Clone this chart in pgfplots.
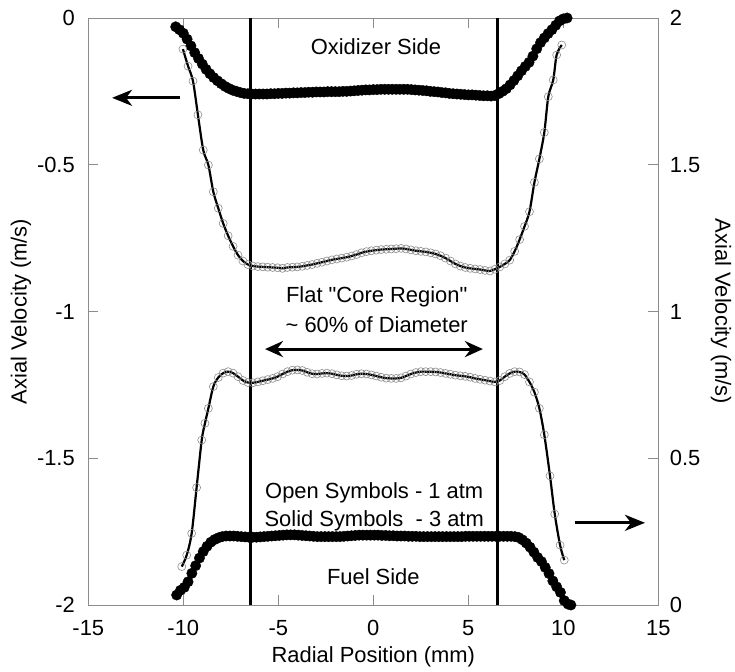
\documentclass[border=0pt]{standalone}
\usepackage{fontspec}
\setmainfont{Liberation Sans}[Ligatures=TeXOff]
\usepackage{pgfplots}
\usepackage{pgfplotstable}
\pgfplotsset{compat=1.18}
\usetikzlibrary{arrows.meta}

\definecolor{frame}{gray}{0.55}
\definecolor{ring}{gray}{0.55}

% Oxidizer side, 3 atm (left axis, m/s)
\pgfplotstableread{
x y
-10.40 -0.030
-10.20 -0.040
-10.00 -0.052
-9.80 -0.072
-9.60 -0.095
-9.40 -0.118
-9.20 -0.138
-9.00 -0.157
-8.80 -0.175
-8.60 -0.190
-8.40 -0.203
-8.20 -0.214
-8.00 -0.224
-7.80 -0.233
-7.60 -0.240
-7.40 -0.246
-7.20 -0.250
-7.00 -0.254
-6.80 -0.257
-6.60 -0.258
-6.40 -0.259
-6.20 -0.259
-6.00 -0.259
-5.80 -0.259
-5.60 -0.259
-5.40 -0.258
-5.20 -0.258
-5.00 -0.257
-4.80 -0.257
-4.60 -0.256
-4.40 -0.256
-4.20 -0.255
-4.00 -0.255
-3.80 -0.254
-3.60 -0.254
-3.40 -0.253
-3.20 -0.253
-3.00 -0.252
-2.80 -0.252
-2.60 -0.252
-2.40 -0.251
-2.20 -0.251
-2.00 -0.251
-1.80 -0.251
-1.60 -0.250
-1.40 -0.250
-1.20 -0.249
-1.00 -0.248
-0.80 -0.247
-0.60 -0.246
-0.40 -0.245
-0.20 -0.245
0.00 -0.244
0.20 -0.244
0.40 -0.243
0.60 -0.243
0.80 -0.243
1.00 -0.243
1.20 -0.243
1.40 -0.243
1.60 -0.243
1.80 -0.243
2.00 -0.244
2.20 -0.245
2.40 -0.246
2.60 -0.247
2.80 -0.248
3.00 -0.250
3.20 -0.251
3.40 -0.252
3.60 -0.254
3.80 -0.255
4.00 -0.257
4.20 -0.258
4.40 -0.259
4.60 -0.260
4.80 -0.261
5.00 -0.262
5.20 -0.262
5.40 -0.263
5.60 -0.264
5.80 -0.265
6.00 -0.265
6.20 -0.266
6.40 -0.264
6.60 -0.258
6.80 -0.250
7.00 -0.241
7.20 -0.228
7.40 -0.213
7.60 -0.197
7.80 -0.180
8.00 -0.165
8.20 -0.151
8.40 -0.130
8.60 -0.105
8.80 -0.084
9.00 -0.068
9.20 -0.053
9.40 -0.040
9.60 -0.025
9.80 -0.010
10.00 -0.003
10.20 0.000
}\oxhigh

% Oxidizer side, 1 atm (left axis, m/s)
\pgfplotstableread{
x y
-10.02 -0.106
-9.75 -0.164
-9.49 -0.215
-9.23 -0.330
-8.95 -0.450
-8.68 -0.501
-8.42 -0.592
-8.16 -0.648
-7.90 -0.700
-7.64 -0.742
-7.38 -0.778
-7.12 -0.808
-6.86 -0.828
-6.60 -0.840
-6.34 -0.845
-6.08 -0.847
-5.82 -0.848
-5.56 -0.849
-5.30 -0.850
-5.04 -0.851
-4.78 -0.853
-4.52 -0.850
-4.26 -0.849
-4.00 -0.848
-3.74 -0.846
-3.48 -0.843
-3.22 -0.840
-2.96 -0.836
-2.70 -0.832
-2.44 -0.828
-2.18 -0.824
-1.92 -0.821
-1.66 -0.818
-1.40 -0.815
-1.14 -0.811
-0.88 -0.806
-0.62 -0.800
-0.36 -0.796
-0.10 -0.793
0.16 -0.791
0.42 -0.789
0.68 -0.788
0.94 -0.787
1.20 -0.786
1.46 -0.785
1.72 -0.787
1.98 -0.790
2.24 -0.793
2.50 -0.795
2.76 -0.797
3.02 -0.800
3.28 -0.804
3.54 -0.810
3.80 -0.818
4.06 -0.828
4.32 -0.838
4.58 -0.845
4.84 -0.850
5.10 -0.853
5.36 -0.855
5.62 -0.857
5.88 -0.860
6.14 -0.862
6.40 -0.856
6.66 -0.848
6.92 -0.838
7.18 -0.825
7.44 -0.795
7.70 -0.755
7.96 -0.710
8.22 -0.660
8.48 -0.560
8.74 -0.480
9.00 -0.390
9.21 -0.268
9.47 -0.211
9.65 -0.126
9.92 -0.092
}\oxlow

% Fuel side, 1 atm (right axis, m/s)
\pgfplotstableread{
x y
-10.08 0.131
-9.82 0.170
-9.56 0.244
-9.30 0.400
-9.03 0.562
-8.86 0.619
-8.68 0.670
-8.42 0.744
-8.16 0.775
-7.90 0.790
-7.64 0.795
-7.38 0.790
-7.12 0.778
-6.86 0.765
-6.60 0.758
-6.34 0.757
-6.08 0.760
-5.82 0.764
-5.56 0.768
-5.30 0.772
-5.04 0.778
-4.78 0.787
-4.52 0.795
-4.26 0.800
-4.00 0.801
-3.74 0.799
-3.48 0.793
-3.22 0.788
-2.96 0.787
-2.70 0.789
-2.44 0.790
-2.18 0.788
-1.92 0.784
-1.66 0.781
-1.40 0.780
-1.14 0.782
-0.88 0.786
-0.62 0.788
-0.36 0.787
-0.10 0.784
0.16 0.780
0.42 0.776
0.68 0.773
0.94 0.772
1.20 0.772
1.46 0.774
1.72 0.780
1.98 0.787
2.24 0.792
2.50 0.795
2.76 0.795
3.02 0.795
3.28 0.794
3.54 0.792
3.80 0.789
4.06 0.786
4.32 0.783
4.58 0.781
4.84 0.779
5.10 0.776
5.36 0.772
5.62 0.769
5.88 0.766
6.14 0.763
6.40 0.760
6.66 0.765
6.92 0.778
7.18 0.789
7.44 0.795
7.70 0.794
7.96 0.785
8.22 0.760
8.48 0.725
8.74 0.670
9.00 0.580
9.30 0.440
9.55 0.310
9.83 0.204
10.05 0.153
}\fuellow

% Fuel side, 3 atm (right axis, m/s)
\pgfplotstableread{
x y
-10.35 0.034
-10.15 0.050
-9.95 0.060
-9.75 0.079
-9.55 0.108
-9.35 0.134
-9.15 0.160
-8.95 0.182
-8.75 0.200
-8.55 0.214
-8.35 0.223
-8.15 0.229
-7.95 0.233
-7.75 0.235
-7.55 0.235
-7.35 0.235
-7.15 0.234
-6.95 0.233
-6.75 0.232
-6.55 0.231
-6.35 0.231
-6.15 0.231
-5.95 0.232
-5.75 0.233
-5.55 0.234
-5.35 0.235
-5.15 0.236
-4.95 0.237
-4.75 0.238
-4.55 0.239
-4.35 0.239
-4.15 0.239
-3.95 0.238
-3.75 0.237
-3.55 0.236
-3.35 0.235
-3.15 0.234
-2.95 0.233
-2.75 0.233
-2.55 0.233
-2.35 0.233
-2.15 0.233
-1.95 0.233
-1.75 0.233
-1.55 0.234
-1.35 0.235
-1.15 0.236
-0.95 0.237
-0.75 0.238
-0.55 0.238
-0.35 0.238
-0.15 0.238
0.05 0.238
0.25 0.238
0.45 0.237
0.65 0.237
0.85 0.236
1.05 0.236
1.25 0.235
1.45 0.235
1.65 0.235
1.85 0.234
2.05 0.234
2.25 0.234
2.45 0.233
2.65 0.233
2.85 0.233
3.05 0.233
3.25 0.233
3.45 0.233
3.65 0.233
3.85 0.233
4.05 0.233
4.25 0.233
4.45 0.233
4.65 0.233
4.85 0.234
5.05 0.234
5.25 0.234
5.45 0.234
5.65 0.234
5.85 0.234
6.05 0.234
6.25 0.234
6.45 0.234
6.65 0.234
6.85 0.234
7.05 0.234
7.25 0.234
7.45 0.233
7.65 0.230
7.85 0.222
8.05 0.211
8.25 0.197
8.45 0.180
8.65 0.162
8.85 0.148
9.05 0.128
9.25 0.107
9.45 0.082
9.65 0.062
9.85 0.043
10.05 0.015
10.25 0.003
10.40 0.000
}\fuelhigh

\newcommand\chartfont{\fontsize{22}{26}\selectfont}

\pgfplotsset{
  velframe/.style={
    at={(0,0)}, anchor=south west,
    scale only axis, width=570bp, height=587bp,
    xmin=-15, xmax=15,
    clip=false,
    axis line style={frame, line width=0.8bp},
    major tick style={frame, line width=0.8bp},
    major tick length=10bp,
    tick align=inside,
    tick label style={font=\chartfont},
    label style={font=\chartfont},
  },
  solidpts/.style={only marks, mark=*, mark size=5.2bp, black,
    mark options={fill=black, draw=black}},
  openpts/.style={only marks, mark=o, mark size=4bp,
    mark options={draw=ring, line width=0.6bp}},
  openline/.style={no marks, black, line width=2.2bp, smooth},
}

\begin{document}
\begin{tikzpicture}
\useasboundingbox (-88.3bp,-67bp) rectangle (646.7bp,605bp);

% left axis: oxidizer side
\begin{axis}[velframe,
  ymin=-2, ymax=0,
  xtick={-15,-10,-5,0,5,10,15},
  xticklabels={-15,-10,-5,0,5,10,15},
  xtick pos=both, xticklabel pos=lower,
  xticklabel style={anchor=center, yshift=-23bp},
  ytick={-2,-1.5,-1,-0.5,0},
  yticklabels={-2,-1.5,-1,-0.5,0},
  ytick pos=left,
  yticklabel style={anchor=east, xshift=-10bp},
  xlabel={Radial Position (mm)},
  xlabel style={at={(axis description cs:0.5,-0.089)}, anchor=center},
  ylabel={Axial Velocity (m/s)},
  ylabel style={at={(axis description cs:-0.118,0.5)}, anchor=center, rotate=0},
]
\addplot[solidpts] table {\oxhigh};
\addplot[openpts] table {\oxlow};
\addplot[openline] table {\oxlow};

% core region boundaries
\draw[black, line width=2.6bp] (axis cs:-6.45,-2) -- (axis cs:-6.45,0);
\draw[black, line width=2.6bp] (axis cs:6.55,-2) -- (axis cs:6.55,0);

\draw[line width=3bp, -{Stealth[length=20bp, width=16bp, inset=6bp]}]
  (axis cs:-10.17,-0.272) -- (axis cs:-13.75,-0.272);
\draw[line width=3bp, -{Stealth[length=20bp, width=16bp, inset=6bp]}]
  (axis cs:10.6,-1.72) -- (axis cs:14.3,-1.72);
\draw[line width=3bp, {Stealth[length=18bp, width=16bp, inset=6bp]}-{Stealth[length=18bp, width=16bp, inset=6bp]}]
  (axis cs:-5.7,-1.128) -- (axis cs:5.77,-1.128);

\begin{scope}[every node/.style={font=\chartfont, anchor=center, inner sep=0pt}]
\node at (axis cs:0.14,-0.099) {Oxidizer Side};
\node at (axis cs:0.18,-0.950) {Flat "Core Region"};
\node at (axis cs:0.18,-1.046) {\textasciitilde{} 60\% of Diameter};
\node at (axis cs:0.05,-1.618) {Open Symbols - 1 atm};
\node at (axis cs:0.05,-1.714) {Solid Symbols \ - 3 atm};
\node at (axis cs:0,-1.905) {Fuel Side};
\end{scope}
\end{axis}

% right axis: fuel side
\begin{axis}[velframe,
  ymin=0, ymax=2,
  hide x axis,
  axis y line*=right,
  ytick={0,0.5,1,1.5,2},
  yticklabels={0,0.5,1,1.5,2},
  yticklabel style={anchor=west, xshift=8bp},
  ylabel={Axial Velocity (m/s)},
  every axis y label/.style={at={(axis description cs:1.110,0.5)}, rotate=-90, anchor=center, font=\chartfont},
]
\addplot[solidpts] table {\fuelhigh};
\addplot[openpts] table {\fuellow};
\addplot[openline] table {\fuellow};
\end{axis}
\end{tikzpicture}
\end{document}
